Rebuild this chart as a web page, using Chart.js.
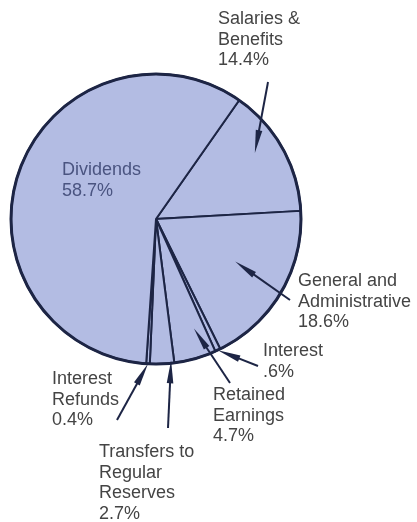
<!DOCTYPE html>
<html>
<head>
<meta charset="utf-8">
<script src="https://cdn.jsdelivr.net/npm/chart.js@4.4.0/dist/chart.umd.min.js"></script>
<style>
  html, body { margin: 0; padding: 0; background: #fff; }
</style>
</head>
<body>
<canvas id="pie" width="417" height="522"></canvas>
<script>
// slice order runs clockwise from the Dividends / Salaries spoke
var categories = ['Salaries & Benefits', 'General and Administrative', 'Interest', 'Retained Earnings', 'Transfers to Regular Reserves', 'Interest Refunds', 'Dividends'];
var shares = [14.4, 18.6, 0.6, 4.7, 2.7, 0.4, 58.7];
var shareLabels = ['14.4%', '18.6%', '.6%', '4.7%', '2.7%', '0.4%', '58.7%'];
var labelLines = [
  ['Salaries &', 'Benefits'],
  ['General and', 'Administrative'],
  ['Interest'],
  ['Retained', 'Earnings'],
  ['Transfers to', 'Regular', 'Reserves'],
  ['Interest', 'Refunds'],
  ['Dividends']
];

// where each caption sits, px from the pie centre; tip = [fraction along slice, fraction of radius]
var callouts = [
  { text: [62, -200],  tail: [112, -137], tip: [0.41, 0.82] },
  { text: [142, 62],   tail: [134, 81],   tip: [0.47, 0.62] },
  { text: [107, 132],  tail: [102, 147],  tip: [0.5, 1.0] },
  { text: [57, 176],   tail: [74, 164],   tip: [0.3, 0.8] },
  { text: [-57, 233],  tail: [12, 209],   tip: [0.12, 0.98] },
  { text: [-104, 160], tail: [-39, 201],  tip: [0.5, 1.0] },
  { text: [-94, -49],  tail: null,        tip: null }
];

var fill = '#b3bce3';
var ink = '#1d2545';
var labelColor = '#444444';
var insideColor = '#4a5480';

function drawArrow(ctx, x0, y0, x1, y1) {
  var a = Math.atan2(y1 - y0, x1 - x0);
  var len = 23, hw = 3.3;
  var bx = x1 - Math.cos(a) * len, by = y1 - Math.sin(a) * len;
  ctx.beginPath();
  ctx.moveTo(x0, y0);
  ctx.lineTo(bx + Math.cos(a) * 4, by + Math.sin(a) * 4);
  ctx.lineWidth = 2;
  ctx.strokeStyle = ink;
  ctx.stroke();
  ctx.beginPath();
  ctx.moveTo(x1, y1);
  ctx.lineTo(bx - Math.sin(a) * hw, by + Math.cos(a) * hw);
  ctx.lineTo(bx + Math.sin(a) * hw, by - Math.cos(a) * hw);
  ctx.closePath();
  ctx.fillStyle = ink;
  ctx.fill();
}

var calloutPlugin = {
  id: 'callouts',
  afterDatasetsDraw: function(chart) {
    var ctx = chart.ctx;
    var arcs = chart.getDatasetMeta(0).data;
    var cx = arcs[0].x, cy = arcs[0].y, R = arcs[0].outerRadius;

    ctx.save();
    // heavy rim round the pie
    ctx.beginPath();
    ctx.arc(cx, cy, R, 0, Math.PI * 2);
    ctx.lineWidth = 3;
    ctx.strokeStyle = ink;
    ctx.stroke();

    ctx.font = '18px "Liberation Sans", Arial, sans-serif';
    ctx.textAlign = 'left';
    ctx.textBaseline = 'middle';
    var lh = 20.6;

    callouts.forEach(function(c, i) {
      var lines = labelLines[i].concat([shareLabels[i]]);
      var tx = cx + c.text[0], ty = cy + c.text[1];
      ctx.fillStyle = c.tail ? labelColor : insideColor;
      lines.forEach(function(s, k) {
        ctx.fillText(s, tx, ty + k * lh);
      });
      if (c.tail) {
        var arc = arcs[i];
        var ang = arc.startAngle + (arc.endAngle - arc.startAngle) * c.tip[0];
        var r = R * c.tip[1];
        drawArrow(ctx, cx + c.tail[0], cy + c.tail[1], cx + Math.cos(ang) * r, cy + Math.sin(ang) * r);
      }
    });
    ctx.restore();
  }
};

new Chart(document.getElementById('pie'), {
  type: 'pie',
  data: {
    labels: categories,
    datasets: [{
      data: shares,
      backgroundColor: fill,
      borderColor: ink,
      borderWidth: 2,
      radius: 145
    }]
  },
  options: {
    responsive: false,
    animation: false,
    rotation: 35,
    layout: { padding: { left: 6, right: 111, top: 69, bottom: 153 } },
    plugins: {
      legend: { display: false },
      tooltip: { enabled: false }
    }
  },
  plugins: [calloutPlugin]
});
</script>
</body>
</html>
